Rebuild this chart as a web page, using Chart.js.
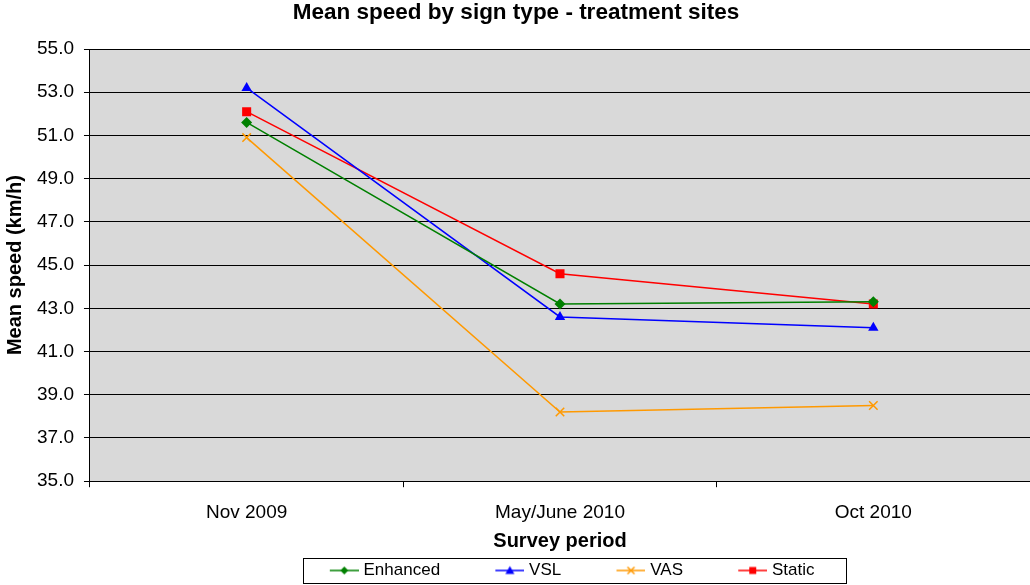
<!DOCTYPE html>
<html>
<head>
<meta charset="utf-8">
<script src="https://cdn.jsdelivr.net/npm/chart.js@4.4.1/dist/chart.umd.min.js"></script>
<style>
  html, body { margin: 0; padding: 0; background: #fff; }
  #wrap { width: 1030px; height: 585px; }
</style>
</head>
<body>
<div id="wrap"><canvas id="chart" width="1030" height="585"></canvas></div>
<script>
const periods = ['Nov 2009', 'May/June 2010', 'Oct 2010'];
const enhanced = [51.6, 43.2, 43.3];
const vsl = [53.2, 42.6, 42.1];
const vas = [50.9, 38.2, 38.5];
const staticSign = [52.1, 44.6, 43.2];

const FONT = 'Arial, "Liberation Sans", sans-serif';

// legend geometry
const LEG_FONT = 17;
const LEG_BOX = 75.5;   // item box width, blank space + icon
const ICON_W = 29;
const LEG_PAD = 5;
const LEG_SHIFT = 31;

// legend symbol: short line with the marker in the middle, drawn at the right end of the image
function legendIcon(color, style) {
  const c = document.createElement('canvas');
  c.width = Math.round(LEG_BOX + 7); c.height = 14;
  const g = c.getContext('2d');
  const x0 = c.width - ICON_W;
  g.strokeStyle = color; g.fillStyle = color; g.lineWidth = 1.5;
  g.beginPath(); g.moveTo(x0, 7); g.lineTo(c.width, 7); g.stroke();
  const x = x0 + ICON_W / 2, y = 7;
  g.beginPath();
  if (style === 'rectRot') {
    g.moveTo(x, y - 4); g.lineTo(x + 4, y); g.lineTo(x, y + 4); g.lineTo(x - 4, y); g.closePath(); g.fill();
  } else if (style === 'triangle') {
    g.moveTo(x, y - 4.5); g.lineTo(x + 4.5, y + 3.5); g.lineTo(x - 4.5, y + 3.5); g.closePath(); g.fill();
  } else if (style === 'crossRot') {
    g.moveTo(x - 3.5, y - 3.5); g.lineTo(x + 3.5, y + 3.5); g.moveTo(x + 3.5, y - 3.5); g.lineTo(x - 3.5, y + 3.5); g.stroke();
  } else {
    g.rect(x - 3.5, y - 3.5, 7, 7); g.fill();
  }
  return c;
}

const plotBg = {
  id: 'plotBg',
  beforeDraw(chart) {
    const { ctx, chartArea: a } = chart;
    ctx.save();
    ctx.fillStyle = '#d9d9d9';
    ctx.fillRect(a.left, a.top, a.right - a.left, a.bottom - a.top);
    ctx.restore();
  },
  afterLayout(chart) {
    // legend sits right of centre in the original
    if (chart.legend) {
      chart.legend.left += LEG_SHIFT;
      chart.legend.right += LEG_SHIFT;
    }
  },
  afterDraw(chart) {
    const lg = chart.legend;
    if (!lg || !lg.legendHitBoxes.length) return;
    const boxes = lg.legendHitBoxes;
    const first = boxes[0], last = boxes[boxes.length - 1];
    const left = first.left + LEG_BOX + 3.5 - ICON_W - 27;
    const right = last.left + last.width + 31;
    const top = first.top - 4;
    const ctx = chart.ctx;
    ctx.save();
    ctx.strokeStyle = '#000';
    ctx.lineWidth = 1;
    ctx.strokeRect(Math.round(left) + 0.5, Math.round(top) + 0.5, Math.round(right - left), 25);
    ctx.restore();
  }
};

function ds(label, data, color, style, radius) {
  return {
    label, data,
    borderColor: color, backgroundColor: color,
    borderWidth: 1.5,
    pointStyle: style, pointRadius: radius, pointHoverRadius: radius,
    pointBorderWidth: style === 'crossRot' ? 1.5 : 0,
    pointBorderColor: color,
    tension: 0,
    legendStyle: style
  };
}

new Chart(document.getElementById('chart'), {
  type: 'line',
  data: {
    labels: periods,
    datasets: [
      ds('Enhanced', enhanced, '#008000', 'rectRot', 5.5),
      ds('VSL', vsl, '#0000ff', 'triangle', 6),
      ds('VAS', vas, '#ff9900', 'crossRot', 6),
      ds('Static', staticSign, '#ff0000', 'rect', 6.4)
    ]
  },
  options: {
    responsive: false,
    animation: false,
    layout: { autoPadding: false, padding: { left: 2, right: 0, top: -1, bottom: -4 } },
    plugins: {
      title: {
        display: true,
        text: 'Mean speed by sign type - treatment sites',
        color: '#000',
        font: { family: FONT, size: 22.5, weight: 'bold' },
        padding: { top: 0, bottom: 23 }
      },
      legend: {
        position: 'bottom',
        labels: {
          color: '#000',
          font: { family: FONT, size: LEG_FONT },
          usePointStyle: true,
          pointStyleWidth: LEG_BOX,
          padding: LEG_PAD,
          generateLabels(chart) {
            return chart.data.datasets.map((d, i) => ({
              text: d.label,
              datasetIndex: i,
              pointStyle: legendIcon(d.borderColor, d.legendStyle),
              fontColor: '#000',
              lineWidth: 0,
              hidden: false
            }));
          }
        }
      },
      tooltip: { enabled: false }
    },
    scales: {
      x: {
        offset: true,
        grid: { offset: true, drawOnChartArea: false, drawTicks: true, tickLength: 6, color: '#000' },
        border: { color: '#000', width: 1 },
        ticks: { color: '#000', font: { family: FONT, size: 19 }, padding: 14 },
        title: {
          display: true, text: 'Survey period', color: '#000',
          font: { family: FONT, size: 20, weight: 'bold' },
          padding: { top: -9, bottom: 4 }
        },
        afterFit(axis) {
          // plot runs to the right edge of the picture
          axis.paddingRight = 0;
          axis.paddingLeft = 0;
        }
      },
      y: {
        min: 35, max: 55,
        grid: { color: '#000', lineWidth: 1, tickLength: 6 },
        border: { color: '#000', width: 1 },
        ticks: {
          stepSize: 2, color: '#000', font: { family: FONT, size: 19 }, padding: 10,
          callback: v => v.toFixed(1)
        },
        title: {
          display: true, text: 'Mean speed (km/h)', color: '#000',
          font: { family: FONT, size: 20, weight: 'bold' },
          padding: { top: 1, bottom: 0 }
        }
      }
    }
  },
  plugins: [plotBg]
});
</script>
</body>
</html>
